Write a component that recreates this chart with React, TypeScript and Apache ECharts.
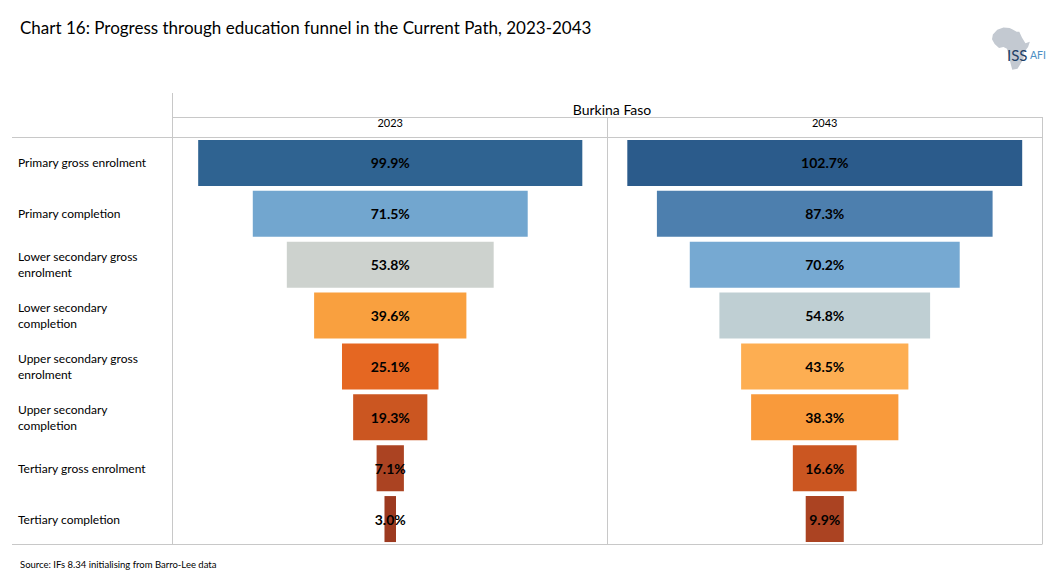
import React, { useEffect, useRef } from "react";
import * as echarts from "echarts";

const categories = [
  "Primary gross enrolment",
  "Primary completion",
  "Lower secondary gross enrolment",
  "Lower secondary completion",
  "Upper secondary gross enrolment",
  "Upper secondary completion",
  "Tertiary gross enrolment",
  "Tertiary completion",
];
const years = ["2023", "2043"];
const values2023 = [99.9, 71.5, 53.8, 39.6, 25.1, 19.3, 7.1, 3.0];
const values2043 = [102.7, 87.3, 70.2, 54.8, 43.5, 38.3, 16.6, 9.9];
const colors2023 = ["#2f6391", "#72a6cf", "#cdd2ce", "#f9a03f", "#e56722", "#cb5621", "#ab4322", "#9c3a20"];
const colors2043 = ["#2b5b8b", "#4d7fae", "#76a9d2", "#bfcfd3", "#fdae52", "#f99a3b", "#cb5621", "#ab4322"];

const AXIS_MAX = 113;
const FONT = "Lato, 'Open Sans', sans-serif";
const LINE = "#c8c8c8";

const africa =
  "M6 3 L13 0.5 L20 1 L24 3 L28 5 L31 5 L34 11 L38 17 L43 15.5 L41 21 L36 27 L36 33 L33 38 L29 44 L23 45 L21 38 L19 29 L17 23 L13 21 L8 22 L3 18 L0 13 L1 8 Z";
echarts.graphic.registerShape("africaShape", echarts.graphic.extendPath(africa as any, {}) as any);

function line(x1: number, y1: number, x2: number, y2: number) {
  return {
    type: "line",
    shape: { x1, y1, x2, y2 },
    style: { stroke: LINE, lineWidth: 1 },
    silent: true,
  };
}

function barSeries(idx: number, values: number[], colors: string[]) {
  return [
    {
      type: "bar",
      xAxisIndex: idx,
      yAxisIndex: idx,
      stack: "funnel" + idx,
      silent: true,
      barWidth: 46,
      itemStyle: { color: "transparent" },
      data: values.map((v) => (AXIS_MAX - v) / 2),
    },
    {
      type: "bar",
      xAxisIndex: idx,
      yAxisIndex: idx,
      stack: "funnel" + idx,
      barWidth: 46,
      data: values.map((v, i) => ({ value: v, itemStyle: { color: colors[i] } })),
      label: {
        show: true,
        position: "inside",
        color: "#000",
        fontFamily: FONT,
        fontSize: 14,
        fontWeight: "bold",
        formatter: (p: any) => p.value.toFixed(1) + "%",
      },
    },
  ];
}

export default function App() {
  const ref = useRef<HTMLDivElement>(null);
  useEffect(() => {
    document.body.style.margin = "0";
    const chart = echarts.init(ref.current!, undefined, { renderer: "svg" });
    const grids = [
      { left: 173, top: 137.5, width: 434.5, height: 407 },
      { left: 607.5, top: 137.5, width: 434.5, height: 407 },
    ];
    chart.setOption({
      animation: false,
      backgroundColor: "#fff",
      title: [
        {
          text: "Chart 16: Progress through education funnel in the Current Path, 2023-2043",
          left: 15,
          top: 14,
          textStyle: { fontFamily: FONT, fontSize: 17, fontWeight: "normal", color: "#000" },
        },
        {
          text: "Burkina Faso",
          left: 607,
          top: 97,
          textAlign: "center",
          textStyle: { fontFamily: FONT, fontSize: 14, fontWeight: "normal", color: "#000" },
        },
        {
          text: "Source: IFs 8.34 initialising from Barro-Lee data",
          left: 15,
          top: 554,
          textStyle: { fontFamily: FONT, fontSize: 9.5, fontWeight: "normal", color: "#000" },
        },
      ],
      grid: grids,
      xAxis: years.map((y, i) => ({
        gridIndex: i,
        type: "value",
        min: 0,
        max: AXIS_MAX,
        position: "top",
        name: y,
        nameLocation: "middle",
        nameGap: 10,
        nameTextStyle: { fontFamily: FONT, fontSize: 11, color: "#000" },
        axisLine: { show: false },
        axisTick: { show: false },
        axisLabel: { show: false },
        splitLine: { show: false },
      })),
      yAxis: years.map((_, i) => ({
        gridIndex: i,
        type: "category",
        inverse: true,
        data: categories,
        axisLine: { show: false },
        axisTick: { show: false },
        splitLine: { show: false },
        axisLabel:
          i === 0
            ? {
                show: true,
                align: "left",
                margin: 155,
                width: 152,
                overflow: "break",
                lineHeight: 16,
                fontFamily: FONT,
                fontSize: 12,
                color: "#000",
              }
            : { show: false },
      })),
      series: [...barSeries(0, values2023, colors2023), ...barSeries(1, values2043, colors2043)],
      graphic: [
        line(172.5, 93, 172.5, 544.5),
        line(607.5, 117, 607.5, 544.5),
        line(1042.5, 117, 1042.5, 544.5),
        line(12, 137.5, 1042, 137.5),
        line(173, 117.5, 1042, 117.5),
        line(12, 544.5, 1042, 544.5),
        {
          type: "africaShape",
          x: 992,
          y: 27,
          scaleX: 0.88,
          scaleY: 0.95,
          style: { fill: "#c3c9d1" },
          silent: true,
        },
        {
          type: "text",
          x: 1007,
          y: 47,
          style: { text: "ISS", fontFamily: FONT, fontSize: 15, fill: "#1d3f66" },
          silent: true,
        },
        {
          type: "text",
          x: 1030,
          y: 49,
          style: { text: "AFI", fontFamily: FONT, fontSize: 10.5, fill: "#4b8fc4" },
          silent: true,
        },
      ],
    });
    return () => chart.dispose();
  }, []);
  return <div ref={ref} style={{ width: 1055, height: 584 }} />;
}
